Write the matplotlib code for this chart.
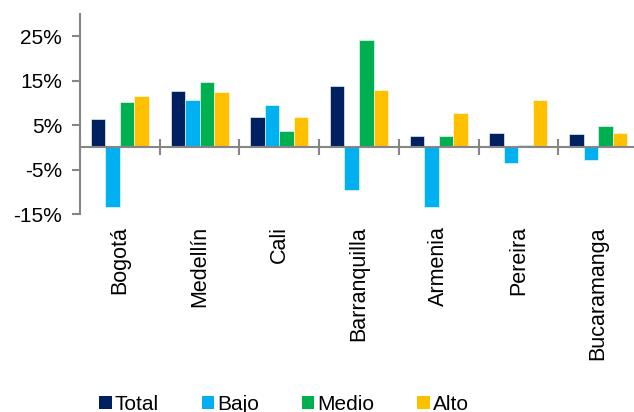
import matplotlib
matplotlib.use("Agg")
import matplotlib.pyplot as plt
import numpy as np
from matplotlib.patches import Patch
from matplotlib.transforms import blended_transform_factory, offset_copy

plt.rcParams['font.family'] = ['Liberation Sans', 'DejaVu Sans']

cities = ["Bogotá", "Medellín", "Cali", "Barranquilla", "Armenia", "Pereira", "Bucaramanga"]
total = [6.4, 12.7, 6.8, 13.8, 2.5, 3.2, 3.0]
bajo = [-13.4, 10.7, 9.5, -9.5, -13.4, -3.6, -2.8]
medio = [10.2, 14.7, 3.6, 24.1, 2.5, 0.5, 4.9]
alto = [11.6, 12.5, 6.9, 12.9, 7.7, 10.6, 3.3]
series_names = ["Total", "Bajo", "Medio", "Alto"]
colors = ["#002060", "#00B0F0", "#00B050", "#FFC000"]
yticks = [-15, -5, 5, 15, 25]

W, H = 634, 412
fig = plt.figure(figsize=(W / 100, H / 100), dpi=100)
ax = fig.add_axes([80 / W, (H - 214) / H, 558 / W, 200 / H])

x = np.arange(len(cities))
bw = 0.182
data = [total, bajo, medio, alto]
for i, (vals, c, n) in enumerate(zip(data, colors, series_names)):
    ax.bar(x + (i - 1.5) * bw, vals, width=bw, color=c, label=n,
           edgecolor="white", linewidth=0.4, zorder=2)

ax.set_xlim(-0.5, len(cities) - 0.5)
ax.set_ylim(-15, 30)
ax.set_yticks(yticks)
ax.set_yticklabels([f"{v}%" for v in yticks], fontsize=15)

gray = "#868686"
for s in ["top", "right"]:
    ax.spines[s].set_visible(False)
ax.spines["left"].set_color(gray)
ax.spines["left"].set_linewidth(1.5)
ax.spines["bottom"].set_position(("data", 0))
ax.spines["bottom"].set_color(gray)
ax.spines["bottom"].set_linewidth(1.5)
ax.spines["bottom"].set_zorder(3)

ax.set_xticks(np.arange(len(cities) + 1) - 0.5)
ax.set_xticklabels([])
ax.tick_params(axis="x", direction="inout", length=12, width=1.5, color=gray)
ax.tick_params(axis="y", direction="out", length=6, width=1.5, color=gray, pad=7)

trans = blended_transform_factory(ax.transData, ax.transAxes)
trans = offset_copy(trans, fig=fig, x=0, y=-12, units="dots")
for xi, name in zip(x, cities):
    ax.text(xi, 0, name, transform=trans, rotation=90, ha="center", va="top",
            fontsize=15.5)

handles = [Patch(facecolor=c, edgecolor="none") for c in colors]
fig.legend(handles, series_names, loc="center", bbox_to_anchor=(284 / W, 8 / H),
           ncol=4, frameon=False, fontsize=15, handlelength=0.6, handleheight=0.6,
           handletextpad=0.15, columnspacing=2.05, borderaxespad=0, borderpad=0)

fig.savefig("out.png", dpi=100)
